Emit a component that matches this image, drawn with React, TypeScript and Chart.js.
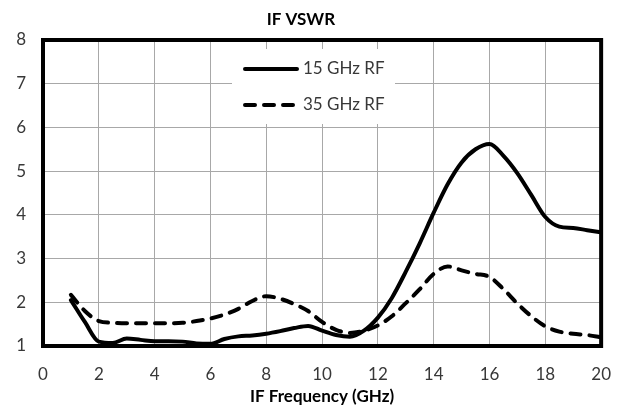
import { useEffect, useRef } from 'react'
import { Chart, registerables } from 'chart.js'

Chart.register(...registerables)

// IF frequency (GHz)
const freqs = [1, 1.5, 2, 2.5, 3, 3.5, 4, 4.5, 5, 5.5, 6, 6.5, 7, 7.5, 8, 8.5, 9, 9.5, 10, 10.5, 11, 11.5, 12, 12.5, 13, 13.5, 14, 14.5, 15, 15.5, 16, 16.5, 17, 17.5, 18, 18.5, 19, 19.5, 20]

// VSWR, 15 GHz RF
const vswr15 = [2.05, 1.55, 1.1, 1.07, 1.17, 1.14, 1.11, 1.11, 1.1, 1.06, 1.05, 1.16, 1.22, 1.24, 1.28, 1.34, 1.41, 1.46, 1.35, 1.25, 1.21, 1.35, 1.65, 2.1, 2.7, 3.35, 4.05, 4.7, 5.2, 5.5, 5.62, 5.35, 4.95, 4.45, 3.95, 3.73, 3.7, 3.65, 3.6]

// VSWR, 35 GHz RF
const vswr35 = [2.17, 1.8, 1.57, 1.53, 1.52, 1.52, 1.52, 1.52, 1.53, 1.57, 1.63, 1.72, 1.85, 2.03, 2.14, 2.08, 1.96, 1.8, 1.55, 1.37, 1.3, 1.35, 1.47, 1.68, 1.98, 2.3, 2.65, 2.82, 2.73, 2.65, 2.58, 2.3, 1.97, 1.68, 1.45, 1.33, 1.28, 1.25, 1.2]

const seriesNames = ['15 GHz RF', '35 GHz RF']

// legend drawn inside the plot, on a white box over the grid
const insideLegend = {
  id: 'insideLegend',
  beforeDatasetsDraw(chart: any) {
    const { ctx, chartArea: ca } = chart
    const boxX = ca.left + 189
    const boxY = ca.top + 9
    ctx.save()
    ctx.fillStyle = '#ffffff'
    ctx.fillRect(boxX, boxY, 163, 75)
    ctx.font = '17px Lato'
    ctx.textBaseline = 'middle'
    chart.data.datasets.forEach((ds: any, i: number) => {
      const y = ca.top + 29 + i * 36
      ctx.beginPath()
      ctx.strokeStyle = ds.borderColor
      ctx.lineWidth = ds.borderWidth
      ctx.lineCap = 'round'
      ctx.setLineDash(ds.borderDash || [])
      ctx.moveTo(boxX + 13, y)
      ctx.lineTo(boxX + 65, y)
      ctx.stroke()
      ctx.setLineDash([])
      ctx.fillStyle = '#383838'
      ctx.fillText(ds.label, boxX + 71, y)
    })
    ctx.restore()
  }
}

// thick black frame round the plot area
const plotFrame = {
  id: 'plotFrame',
  afterDatasetsDraw(chart: any) {
    const { ctx, chartArea: ca } = chart
    ctx.save()
    ctx.strokeStyle = '#000000'
    ctx.lineWidth = 4
    ctx.strokeRect(ca.left, ca.top, ca.right - ca.left, ca.bottom - ca.top)
    ctx.restore()
  }
}

const App = () => {
  const chartRef = useRef<HTMLCanvasElement>(null)
  const chartInstance = useRef<Chart | null>(null)

  useEffect(() => {
    if (!chartRef.current) return
    const ctx = chartRef.current.getContext('2d')
    if (!ctx) return

    Chart.defaults.font.family = 'Lato'

    chartInstance.current = new Chart(ctx, {
      type: 'line',
      data: {
        datasets: [
          {
            label: seriesNames[0],
            data: freqs.map((f, i) => ({ x: f, y: vswr15[i] })),
            borderColor: '#000000',
            borderWidth: 4,
            borderCapStyle: 'round',
            pointRadius: 0,
            cubicInterpolationMode: 'monotone',
            fill: false
          },
          {
            label: seriesNames[1],
            data: freqs.map((f, i) => ({ x: f, y: vswr35[i] })),
            borderColor: '#000000',
            borderWidth: 4,
            borderDash: [10, 9],
            borderCapStyle: 'round',
            pointRadius: 0,
            cubicInterpolationMode: 'monotone',
            fill: false
          }
        ]
      },
      options: {
        animation: false,
        responsive: true,
        maintainAspectRatio: false,
        layout: { padding: { left: 0, right: 27, top: 0, bottom: 0 } },
        plugins: {
          legend: { display: false },
          tooltip: { enabled: false },
          title: {
            display: true,
            text: 'IF VSWR',
            color: '#000000',
            font: { size: 17, weight: 'bold', lineHeight: 1 },
            padding: { top: 11, bottom: 12 }
          }
        },
        scales: {
          x: {
            type: 'linear',
            min: 0,
            max: 20,
            afterFit: (scale: any) => { scale.height = 74 },
            ticks: { stepSize: 2, padding: 18, color: '#383838', font: { size: 17 } },
            grid: { color: '#a8a8a8', lineWidth: 1, drawTicks: false },
            border: { display: false },
            title: {
              display: true,
              text: 'IF Frequency (GHz)',
              color: '#000000',
              font: { size: 17, weight: 'bold' },
              padding: { top: 0, bottom: 13 }
            }
          },
          y: {
            min: 1,
            max: 8,
            afterFit: (scale: any) => { scale.width = 43 },
            ticks: { stepSize: 1, padding: 17, color: '#383838', font: { size: 17 } },
            grid: { color: '#a8a8a8', lineWidth: 1, drawTicks: false },
            border: { display: false }
          }
        }
      },
      plugins: [insideLegend, plotFrame]
    } as any)

    return () => {
      if (chartInstance.current) {
        chartInstance.current.destroy()
        chartInstance.current = null
      }
    }
  }, [])

  return (
    <div style={{ position: 'fixed', left: 0, top: 0, width: '629px', height: '420px', background: '#ffffff' }}>
      <canvas ref={chartRef}></canvas>
    </div>
  )
}

export default App
